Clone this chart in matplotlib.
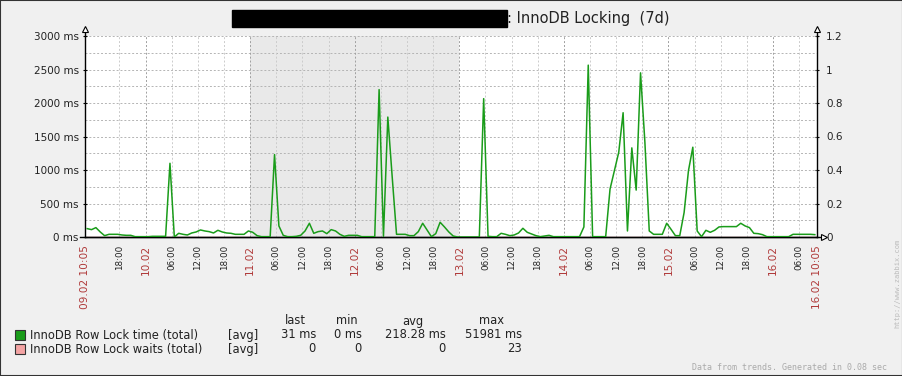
import numpy as np
import matplotlib.pyplot as plt
from matplotlib.patches import Rectangle

W, H, DPI = 903, 376, 100

# Hourly trend averages (ms); first point is the 09.02 10:05 hour
lock_time_ms = [
    125, 110, 140, 75, 20, 40, 40, 40, 30, 25,
    25, 5, 5, 5, 5, 10, 10, 10, 10, 1100,
    0, 55, 40, 30, 60, 75, 105, 90, 80, 60,
    100, 75, 60, 55, 40, 40, 40, 90, 70, 20,
    5, 5, 5, 1230, 165, 25, 5, 5, 10, 25,
    90, 205, 55, 80, 90, 50, 110, 90, 40, 10,
    25, 25, 25, 5, 5, 5, 5, 2200, 10, 1790,
    900, 40, 40, 40, 20, 20, 80, 205, 105, 5,
    50, 220, 150, 75, 15, 0, 0, 0, 0, 0,
    0, 2065, 10, 5, 5, 55, 40, 20, 30, 60,
    130, 70, 45, 20, 5, 15, 25, 5, 5, 5,
    5, 5, 5, 5, 150, 2565, 5, 5, 5, 5,
    715, 990, 1265, 1855, 90, 1330, 700, 2450, 1415, 90,
    40, 40, 40, 205, 115, 20, 20, 365, 990, 1340,
    90, 5, 100, 70, 100, 150, 155, 155, 155, 155,
    205, 165, 140, 55, 50, 35, 5, 5, 5, 5,
    5, 5, 40, 40, 40, 40, 40, 35,
]
lock_waits = [0] * len(lock_time_ms)

# Time axis: hours since 09.02 10:05, 7 days
span_hours = 168
first_mark = 7 + 55 / 60          # 09.02 18:00
weekend = (37 + 55 / 60, 85 + 55 / 60)   # 11.02 00:00 -> 13.02 00:00
date_labels = ['10.02', '11.02', '12.02', '13.02', '14.02', '15.02', '16.02']
mark_labels = ['18:00']
for d in date_labels[:-1]:
    mark_labels += [d, '06:00', '12:00', '18:00']
mark_labels += ['16.02', '06:00']
edge_labels = ['09.02 10:05', '16.02 10:05']

left_ticks = [0, 500, 1000, 1500, 2000, 2500, 3000]
right_ticks = [0, 0.2, 0.4, 0.6, 0.8, 1.0, 1.2]
right_tick_labels = ['0', '0.2', '0.4', '0.6', '0.8', '1', '1.2']

legend_names = ['InnoDB Row Lock time (total)', 'InnoDB Row Lock waits (total)']
legend_cols = ['last', 'min', 'avg', 'max']
legend_values = [['31 ms', '0 ms', '218.28 ms', '51981 ms'],
                 ['0', '0', '0', '23']]

GREEN = '#1a9c1a'
PINK = '#f4a4a4'
RED = '#b03a3a'
TXT = '#222222'


def fx(px):
    return px / W


def fy(py):
    return 1 - py / H


fig = plt.figure(figsize=(W / DPI, H / DPI), dpi=DPI, facecolor='#f0f0f0')
ax = fig.add_axes([fx(85), fy(237), (817 - 85) / W, (237 - 36) / H])
ax2 = ax.twinx()
ax.set_zorder(ax2.get_zorder() + 1)
ax.patch.set_visible(False)
ax2.patch.set_visible(True)
ax2.patch.set_facecolor('white')

hours = np.arange(len(lock_time_ms)) + 0.5

# weekend shading + grid
ax.axvspan(*weekend, color='#e9e9e9', lw=0, zorder=0)
for v in range(250, 3001, 250):
    ax.axhline(v, color='#b4b4b4', lw=0.7, ls=(0, (2, 2)), zorder=1)
marks = first_mark + 6 * np.arange(len(mark_labels))
for m, lab in zip(marks, mark_labels):
    is_date = lab in date_labels
    ax.axvline(m, color='#a0a0a0' if is_date else '#cccccc', lw=0.7,
               ls=(0, (2, 2)), zorder=1)

# series
ax2.plot(hours, lock_waits, color=PINK, lw=1)
ax.plot(hours, lock_time_ms, color=GREEN, lw=1.1, zorder=3)

ax.set_xlim(0, span_hours)
ax.set_ylim(0, 3000)
ax2.set_ylim(0, 1.2)
ax.set_xticks([])
ax.set_yticks(left_ticks, [f'{v} ms' for v in left_ticks])
ax2.set_yticks(right_ticks, right_tick_labels)
ax.tick_params(axis='y', length=3, width=0.8, direction='inout', pad=3,
               labelsize=7.5, labelcolor=TXT)
ax2.tick_params(axis='y', length=3, width=0.8, direction='inout', pad=5,
                labelsize=7.5, labelcolor=TXT)

for s in ['top', 'right']:
    ax.spines[s].set_visible(False)
for s in ['top', 'left', 'bottom']:
    ax2.spines[s].set_visible(False)
for sp in [ax.spines['left'], ax.spines['bottom'], ax2.spines['right']]:
    sp.set_color('black')
    sp.set_linewidth(1)

# axis extensions with hollow arrow heads
ax.plot([0, 0], [1, 1.035], transform=ax.transAxes, clip_on=False, color='k', lw=1)
ax.plot([1, 1], [1, 1.035], transform=ax.transAxes, clip_on=False, color='k', lw=1)
ax.plot([-0.007, 1.007], [0, 0], transform=ax.transAxes, clip_on=False, color='k', lw=1)
for x, y, mk in [(0, 1.035, '^'), (1, 1.035, '^'), (1.009, 0, '>')]:
    ax.plot(x, y, marker=mk, ms=4.5, mfc='white', mec='black', mew=0.8,
            transform=ax.transAxes, clip_on=False, zorder=5)

# x labels
xt = ax.get_xaxis_transform()
for m, lab in zip(marks, mark_labels):
    is_date = lab in date_labels
    ax.text(m, -8 / 201, lab, transform=xt, rotation=90, ha='center', va='top',
            fontsize=7.6 if is_date else 6.3, color=RED if is_date else TXT)
for x, lab in zip([0, span_hours], edge_labels):
    ax.text(x, -8 / 201, lab, transform=xt, rotation=90, ha='center', va='top',
            fontsize=7.6, color=RED)

# title (host name is blacked out in the original)
fig.patches.append(Rectangle((fx(232), fy(27)), (507 - 232) / W, 17 / H,
                             transform=fig.transFigure, color='black'))
fig.text(fx(507), fy(18.5), ': InnoDB Locking  (7d)', ha='left', va='center',
         fontsize=10.5, color=TXT)

# legend table
header_x = [295, 347, 413, 492]
value_x = [316, 362, 446, 522]
row_y = [335, 349]
for hx, h in zip(header_x, legend_cols):
    fig.text(fx(hx), fy(321), h, ha='center', va='center', fontsize=8.3, color=TXT)
for ry, name, col, vals in zip(row_y, legend_names, [GREEN, PINK], legend_values):
    fig.patches.append(Rectangle((fx(15), fy(ry + 5)), 10 / W, 10 / H,
                                 transform=fig.transFigure, fc=col, ec='#333333', lw=0.8))
    fig.text(fx(30), fy(ry), name, ha='left', va='center', fontsize=8.3, color=TXT)
    fig.text(fx(228), fy(ry), '[avg]', ha='left', va='center', fontsize=8.3, color=TXT)
    for vx, v in zip(value_x, vals):
        fig.text(fx(vx), fy(ry), v, ha='right', va='center', fontsize=8.3, color=TXT)

fig.text(fx(887), fy(368), 'Data from trends. Generated in 0.08 sec', ha='right',
         va='center', family='DejaVu Sans Mono', fontsize=6, color='#aaaaaa')
fig.text(fx(897), fy(283), 'http://www.zabbix.com', rotation=90, ha='center',
         va='center', family='DejaVu Sans Mono', fontsize=5, color='#bbbbbb')

# dark frame round the image
fig.patches.append(Rectangle((0, 0), 1, 1, transform=fig.transFigure, fill=False,
                             ec='#333333', lw=1.5))

fig.savefig('out.png', dpi=DPI, facecolor=fig.get_facecolor())
